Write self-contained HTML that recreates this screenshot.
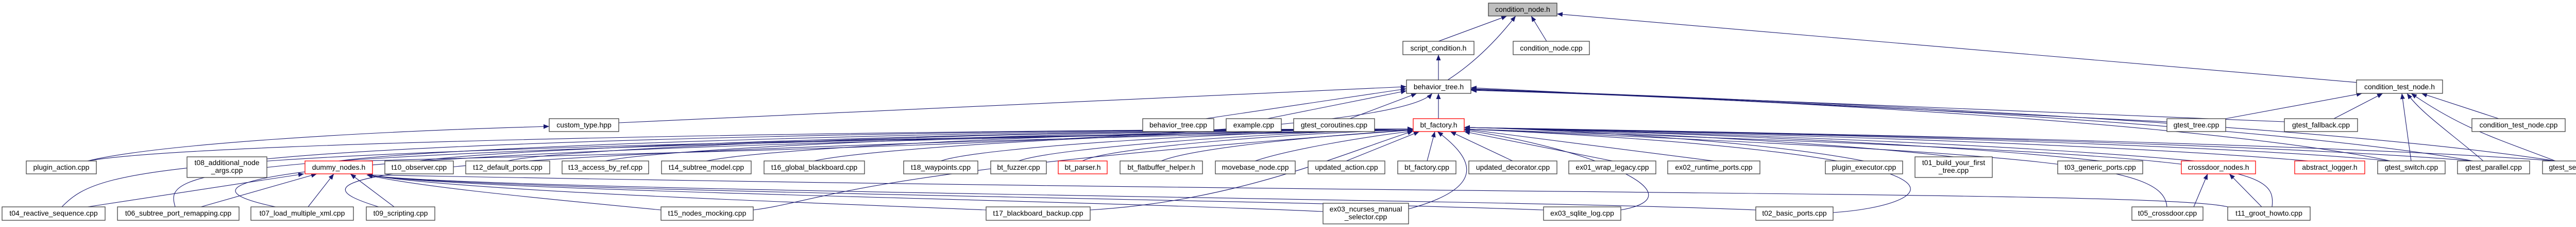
<!DOCTYPE html>
<html><head><meta charset="utf-8"><style>
html,body{margin:0;padding:0;background:#fff;}
svg{display:block;}
text{font-family:"Liberation Sans",sans-serif;font-size:14px;fill:#000;}
.n{fill:#fff;stroke:#404040;stroke-width:1.3;}
.r{fill:#fff;stroke:#ff0000;stroke-width:1.3;}
.e{fill:none;stroke:#191970;stroke-width:1.1;}
</style></head><body>
<svg width="5087" height="440" viewBox="0 0 5087 440" xmlns="http://www.w3.org/2000/svg">
<defs><marker id="a" markerWidth="11" markerHeight="9" refX="11" refY="4.5" orient="auto" markerUnits="userSpaceOnUse"><path d="M0,0 L11,4.5 L0,9 z" fill="#191970"/></marker></defs>
<g class="e" marker-end="url(#a)">
<path d="M2792,80 L2925,31"/>
<path d="M2810,155 Q2880,110 2942,31"/>
<path d="M3002,80 L2972,31"/>
<path d="M4577,160 L3022,27"/>
<path d="M2792,155 L2792,106"/>
<path d="M2792,230 L2792,181"/>
<path d="M2620,230 L2750,181"/>
<path d="M2460,230 L2730,176"/>
<path d="M2340,230 L2730,172"/>
<path d="M1201,238 L2730,168"/>
<path d="M700,312 C1500,290 2700,270 2780,181"/>
<path d="M4206,236 L2855,170"/>
<path d="M4434,236 L2855,172"/>
<path d="M4640,312 C4300,240 3400,190 2855,175"/>
<path d="M4800,312 C4400,240 3400,190 2855,174"/>
<path d="M4960,312 C4500,240 3400,190 2855,173"/>
<path d="M170,312 C300,280 700,255 1066,245"/>
<path d="M170,312 C400,270 2000,250 2743,250"/>
<path d="M518,308 C900,270 2000,250 2743,250"/>
<path d="M657,312 C900,280 2000,250 2743,250"/>
<path d="M813,312 C1000,285 2000,252 2743,250"/>
<path d="M985,312 C1100,285 2000,252 2743,250"/>
<path d="M1175,312 C1300,285 2100,252 2743,250"/>
<path d="M1371,312 C1500,285 2200,252 2743,250"/>
<path d="M1580,312 C1700,285 2300,252 2743,250"/>
<path d="M1826,312 C1900,285 2400,255 2743,250"/>
<path d="M1977,312 C2050,285 2500,255 2743,250"/>
<path d="M2101,312 C2150,285 2550,255 2743,252"/>
<path d="M2254,312 C2320,285 2600,260 2743,252"/>
<path d="M2436,312 C2500,290 2650,265 2743,254"/>
<path d="M2613,312 L2755,255"/>
<path d="M2770,312 L2785,255"/>
<path d="M2936,312 L2815,255"/>
<path d="M3130,312 L2842,255"/>
<path d="M3326,312 L2842,250"/>
<path d="M3618,312 C3400,270 3000,250 2842,247"/>
<path d="M3792,304 C3500,270 3000,250 2842,247"/>
<path d="M4076,312 C3700,270 3000,250 2842,247"/>
<path d="M4260,312 C3800,270 3000,250 2842,247"/>
<path d="M4480,312 C4000,270 3000,250 2842,247"/>
<path d="M4640,312 C4200,270 3000,250 2842,247"/>
<path d="M4800,312 C4300,270 3000,250 2842,247"/>
<path d="M4960,312 C4400,270 3000,250 2842,247"/>
<path d="M120,401 C200,320 300,290 2743,252"/>
<path d="M340,401 C320,330 330,290 2743,252"/>
<path d="M535,401 C340,360 330,290 2743,252"/>
<path d="M735,401 C570,350 560,300 2743,252"/>
<path d="M1462,407 C1600,390 1650,330 2743,252"/>
<path d="M2116,407 C2400,390 2600,300 2743,254"/>
<path d="M2734,405 C2900,360 2850,300 2790,255"/>
<path d="M3146,407 C3300,380 3100,290 2842,252"/>
<path d="M3558,412 C3750,400 3950,300 2842,250"/>
<path d="M4206,401 C4200,320 4000,300 2842,250"/>
<path d="M4410,401 C4420,320 4350,300 2842,250"/>
<path d="M170,401 L590,337"/>
<path d="M390,401 L615,337"/>
<path d="M598,401 L648,337"/>
<path d="M765,401 L680,337"/>
<path d="M1283,407 C1000,380 800,360 712,339"/>
<path d="M1914,407 C1500,390 900,370 712,339"/>
<path d="M2568,410 C2000,385 900,370 712,339"/>
<path d="M2996,407 C2400,385 900,370 712,339"/>
<path d="M3408,407 C2900,385 900,370 712,339"/>
<path d="M4324,401 C4200,370 2900,380 712,339"/>
<path d="M4258,401 L4285,337"/>
<path d="M4390,401 L4327,337"/>
<path d="M4320,230 L4585,181"/>
<path d="M4530,230 L4625,181"/>
<path d="M4680,312 L4662,181"/>
<path d="M4820,312 C4760,260 4700,220 4672,181"/>
<path d="M4960,312 C4850,270 4780,250 4680,181"/>
<path d="M4850,230 L4700,181"/>
</g>
<g>
<rect x="2889" y="6" width="133" height="25" fill="#bfbfbf" stroke="#404040" stroke-width="1.3"/><text x="2955.5" y="23" text-anchor="middle">condition_node.h</text>
<rect class="n" x="2723" y="80" width="138" height="26"/><text x="2792" y="98" text-anchor="middle">script_condition.h</text>
<rect class="n" x="2937" y="80" width="148" height="26"/><text x="3011" y="98" text-anchor="middle">condition_node.cpp</text>
<rect class="n" x="2730" y="155" width="125" height="26"/><text x="2792.5" y="173" text-anchor="middle">behavior_tree.h</text>
<rect class="n" x="4574" y="155" width="167" height="26"/><text x="4657.5" y="173" text-anchor="middle">condition_test_node.h</text>
<rect class="n" x="1066" y="230" width="135" height="25"/><text x="1133.5" y="247" text-anchor="middle">custom_type.hpp</text>
<rect class="n" x="2218" y="230" width="138" height="25"/><text x="2287" y="247" text-anchor="middle">behavior_tree.cpp</text>
<rect class="n" x="2380" y="230" width="107" height="25"/><text x="2433.5" y="247" text-anchor="middle">example.cpp</text>
<rect class="n" x="2511" y="230" width="157" height="25"/><text x="2589.5" y="247" text-anchor="middle">gtest_coroutines.cpp</text>
<rect class="r" x="2743" y="230" width="99" height="25"/><text x="2792.5" y="247" text-anchor="middle">bt_factory.h</text>
<rect class="n" x="4206" y="230" width="114" height="25"/><text x="4263" y="247" text-anchor="middle">gtest_tree.cpp</text>
<rect class="n" x="4434" y="230" width="142" height="25"/><text x="4505" y="247" text-anchor="middle">gtest_fallback.cpp</text>
<rect class="n" x="4798" y="230" width="181" height="25"/><text x="4888.5" y="247" text-anchor="middle">condition_test_node.cpp</text>

<rect class="n" x="51" y="312" width="136" height="25"/><text x="119" y="329" text-anchor="middle">plugin_action.cpp</text>
<rect class="n" x="363" y="304" width="155" height="40"/><text x="440.5" y="320" text-anchor="middle">t08_additional_node</text><text x="440.5" y="335" text-anchor="middle">_args.cpp</text>
<rect class="r" x="592" y="312" width="131" height="25"/><text x="657.5" y="329" text-anchor="middle">dummy_nodes.h</text>
<rect class="n" x="747" y="312" width="133" height="25"/><text x="813.5" y="329" text-anchor="middle">t10_observer.cpp</text>
<rect class="n" x="904" y="312" width="163" height="25"/><text x="985.5" y="329" text-anchor="middle">t12_default_ports.cpp</text>
<rect class="n" x="1091" y="312" width="168" height="25"/><text x="1175" y="329" text-anchor="middle">t13_access_by_ref.cpp</text>
<rect class="n" x="1284" y="312" width="174" height="25"/><text x="1371" y="329" text-anchor="middle">t14_subtree_model.cpp</text>
<rect class="n" x="1483" y="312" width="195" height="25"/><text x="1580.5" y="329" text-anchor="middle">t16_global_blackboard.cpp</text>
<rect class="n" x="1754" y="312" width="144" height="25"/><text x="1826" y="329" text-anchor="middle">t18_waypoints.cpp</text>
<rect class="n" x="1923" y="312" width="108" height="25"/><text x="1977" y="329" text-anchor="middle">bt_fuzzer.cpp</text>
<rect class="r" x="2054" y="312" width="95" height="25"/><text x="2101.5" y="329" text-anchor="middle">bt_parser.h</text>
<rect class="n" x="2174" y="312" width="160" height="25"/><text x="2254" y="329" text-anchor="middle">bt_flatbuffer_helper.h</text>
<rect class="n" x="2359" y="312" width="155" height="25"/><text x="2436.5" y="329" text-anchor="middle">movebase_node.cpp</text>
<rect class="n" x="2539" y="312" width="149" height="25"/><text x="2613.5" y="329" text-anchor="middle">updated_action.cpp</text>
<rect class="n" x="2713" y="312" width="113" height="25"/><text x="2769.5" y="329" text-anchor="middle">bt_factory.cpp</text>
<rect class="n" x="2851" y="312" width="171" height="25"/><text x="2936.5" y="329" text-anchor="middle">updated_decorator.cpp</text>
<rect class="n" x="3045" y="312" width="169" height="25"/><text x="3129.5" y="329" text-anchor="middle">ex01_wrap_legacy.cpp</text>
<rect class="n" x="3237" y="312" width="179" height="25"/><text x="3326.5" y="329" text-anchor="middle">ex02_runtime_ports.cpp</text>
<rect class="n" x="3543" y="312" width="150" height="25"/><text x="3618" y="329" text-anchor="middle">plugin_executor.cpp</text>
<rect class="n" x="3717" y="304" width="150" height="40"/><text x="3792" y="320" text-anchor="middle">t01_build_your_first</text><text x="3792" y="335" text-anchor="middle">_tree.cpp</text>
<rect class="n" x="3994" y="312" width="165" height="25"/><text x="4076.5" y="329" text-anchor="middle">t03_generic_ports.cpp</text>
<rect class="r" x="4234" y="312" width="144" height="25"/><text x="4306" y="329" text-anchor="middle">crossdoor_nodes.h</text>
<rect class="r" x="4454" y="312" width="136" height="25"/><text x="4522" y="329" text-anchor="middle">abstract_logger.h</text>
<rect class="n" x="4615" y="312" width="131" height="25"/><text x="4680.5" y="329" text-anchor="middle">gtest_switch.cpp</text>
<rect class="n" x="4770" y="312" width="140" height="25"/><text x="4840" y="329" text-anchor="middle">gtest_parallel.cpp</text>
<rect class="n" x="4935" y="312" width="150" height="25"/><text x="5010" y="329" text-anchor="middle">gtest_sequence.cpp</text>

<rect class="n" x="4" y="401" width="200" height="26"/><text x="104" y="418" text-anchor="middle">t04_reactive_sequence.cpp</text>
<rect class="n" x="228" y="401" width="236" height="26"/><text x="346" y="418" text-anchor="middle">t06_subtree_port_remapping.cpp</text>
<rect class="n" x="487" y="401" width="199" height="26"/><text x="586.5" y="418" text-anchor="middle">t07_load_multiple_xml.cpp</text>
<rect class="n" x="711" y="401" width="133" height="26"/><text x="777.5" y="418" text-anchor="middle">t09_scripting.cpp</text>
<rect class="n" x="1283" y="401" width="179" height="26"/><text x="1372.5" y="418" text-anchor="middle">t15_nodes_mocking.cpp</text>
<rect class="n" x="1914" y="401" width="202" height="26"/><text x="2015" y="418" text-anchor="middle">t17_blackboard_backup.cpp</text>
<rect class="n" x="2568" y="394" width="166" height="40"/><text x="2651" y="410" text-anchor="middle">ex03_ncurses_manual</text><text x="2651" y="425" text-anchor="middle">_selector.cpp</text>
<rect class="n" x="2996" y="401" width="150" height="26"/><text x="3071" y="418" text-anchor="middle">ex03_sqlite_log.cpp</text>
<rect class="n" x="3408" y="401" width="150" height="26"/><text x="3483" y="418" text-anchor="middle">t02_basic_ports.cpp</text>
<rect class="n" x="4138" y="401" width="138" height="26"/><text x="4207" y="418" text-anchor="middle">t05_crossdoor.cpp</text>
<rect class="n" x="4324" y="401" width="160" height="26"/><text x="4404" y="418" text-anchor="middle">t11_groot_howto.cpp</text>
</g>
</svg>
</body></html>
